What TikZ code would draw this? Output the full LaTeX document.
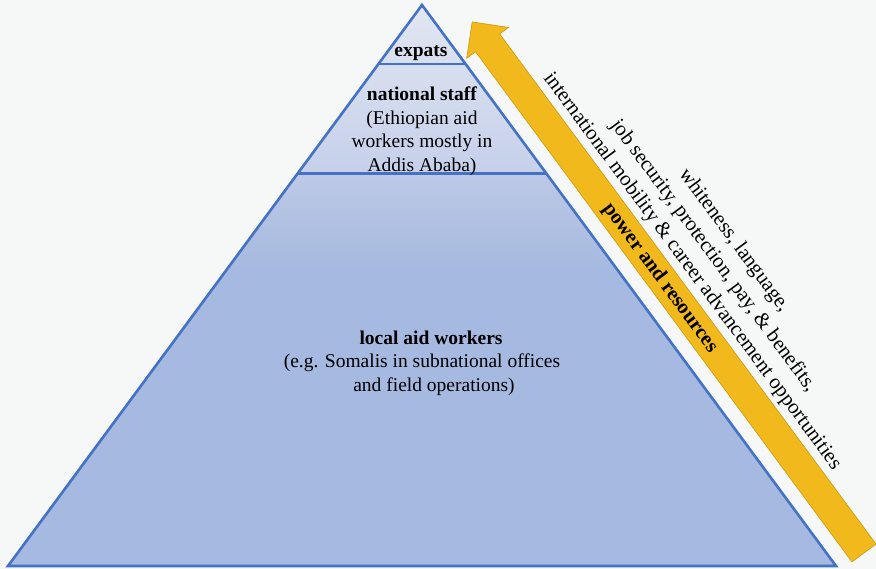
\documentclass[tikz,border=0pt]{standalone}
\usepackage{fontspec}
\setmainfont{Liberation Serif}
\usetikzlibrary{calc}
\definecolor{bgcol}{HTML}{F6F7F7}
\definecolor{edgeblue}{HTML}{4472C4}
\definecolor{fillblue}{HTML}{A6B9E0}
\definecolor{topblue}{HTML}{E2E7F2}
\definecolor{midblue}{HTML}{C6D0EA}
\definecolor{lowblue}{HTML}{BDC9E6}
\definecolor{gold}{HTML}{F2B91C}
\definecolor{golddark}{HTML}{C99A12}

\begin{document}
\begin{tikzpicture}[x=1pt,y=1pt,font=\fontsize{19.5}{23.5}\selectfont]
\tikzset{TierText/.style = {align=center, inner sep=0pt},
         SideText/.style = {align=center, inner sep=0pt, rotate=-53.58,
                            font=\fontsize{20.8}{26}\selectfont},
         EdgeStyle/.style = {draw=edgeblue, line width=2.6pt}}
\fill[bgcol] (0,0) rectangle (876,569);
\useasboundingbox (0,0) rectangle (876,569);
\coordinate (apex) at (422,564);
\coordinate (bl) at (8,3);
\coordinate (br) at (836,3);
\coordinate (foot) at (864,16);
% pyramid body
\begin{scope}
  \clip (apex) -- (bl) -- (br) -- cycle;
  \fill[fillblue] (0,0) rectangle (876,300);
  \fill[top color=lowblue, bottom color=fillblue] (0,300) rectangle (876,396);
  \fill[top color=topblue, bottom color=midblue] (0,396) rectangle (876,569);
\end{scope}
\draw[EdgeStyle] ($(apex)!0.105!(bl)$) -- ($(apex)!0.105!(br)$);
\draw[EdgeStyle] ($(apex)!0.3!(bl)$) -- ($(apex)!0.3!(br)$);
\draw[EdgeStyle] (apex) -- (bl) -- (br) -- cycle;
% arrow
\begin{scope}[shift={(foot)}, rotate=126.42]
  \filldraw[fill=gold, draw=golddark, line width=0.6pt]
    (0,-15) -- (634,-15) -- (634,-26) -- (660,0) -- (634,26) -- (634,15) -- (0,15) -- cycle;
\end{scope}
% labels
\node[TierText, font=\fontsize{19.5}{23.5}\selectfont\bfseries] (expats) at (421,516) {expats};
\node[TierText] (national) at (422,438) {\textbf{national staff}\\(Ethiopian aid\\workers mostly in\\Addis Ababa)};
\node[TierText] (local) at (422,206) {\hspace*{18pt}\textbf{local aid workers}\\(e.g. Somalis in subnational offices\\\hspace*{24pt}and field operations)};
\node[SideText, font=\fontsize{20.5}{24}\selectfont\bfseries] (power) at (660,291) {power and resources};
\node[SideText] (assets) at (713,313) {whiteness, language,\\job security, protection, pay, \& benefits,\\international mobility \& career advancement opportunities};
\end{tikzpicture}
\end{document}
